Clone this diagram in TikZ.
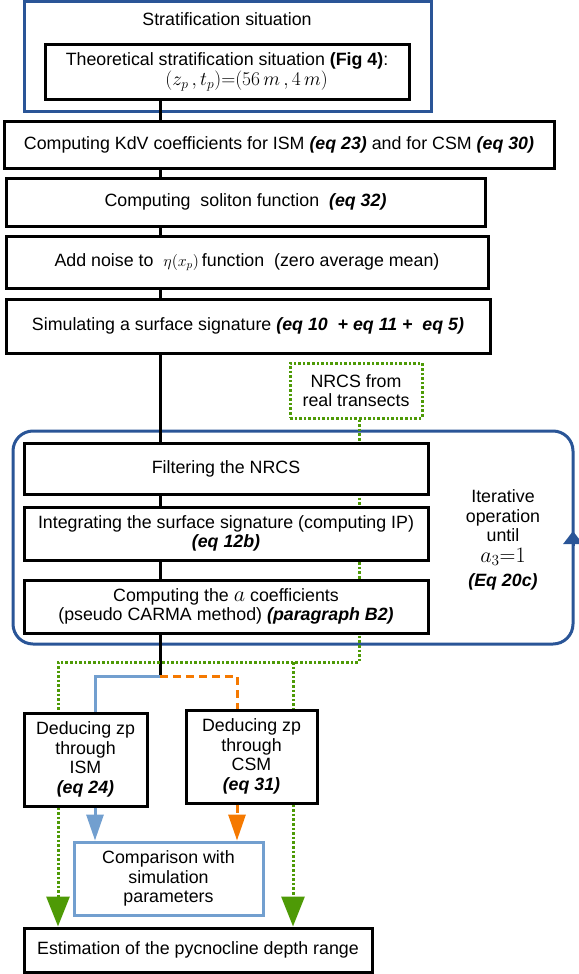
\RequirePackage{fix-cm}
\documentclass[tikz,border=0pt]{standalone}
\usepackage{fontspec}
\setmainfont{Liberation Sans}
\usetikzlibrary{arrows.meta,backgrounds}
\definecolor{loopblue}{HTML}{2A5597}
\definecolor{cmpblue}{HTML}{729FCF}
\definecolor{nrcsgreen}{HTML}{4E9A06}
\definecolor{csmorange}{HTML}{F57900}
\newcommand{\boxline}{3pt}
\newcommand{\bodyfont}{\fontsize{17.8}{19.6}\selectfont}
\newcommand{\eqbi}[1]{\textbf{\textit{#1}}}
\tikzset{
  stepbox/.style={draw, fill=white, line width=\boxline, inner sep=0pt, align=center, font=\bodyfont},
  sitbox/.style={draw=loopblue, line width=\boxline},
  loopbox/.style={draw=loopblue, line width=\boxline, rounded corners=20pt},
  cmpbox/.style={stepbox, draw=cmpblue},
  nrcsbox/.style={stepbox, draw=nrcsgreen, dash pattern=on 2.6pt off 2pt},
  trunk/.style={line width=\boxline},
  ismline/.style={draw=cmpblue, line width=\boxline},
  csmline/.style={draw=csmorange, line width=\boxline, dash pattern=on 8pt off 5pt},
  nrcsline/.style={draw=nrcsgreen, line width=\boxline, dash pattern=on 2.6pt off 2pt},
  loopline/.style={draw=loopblue, line width=\boxline}
}

\begin{document}
\begin{tikzpicture}[x=1pt, y=-1pt]
\useasboundingbox (0,0) rectangle (578,974);
\node[font=\bodyfont] (sittitle) at (227,19) {Stratification situation};
\node[stepbox, minimum width=364, minimum height=54] (theo) at (227,72) {Theoretical stratification situation \textbf{(Fig 4)}:\\ \hspace{2.2em}{\fontsize{19.5}{19.6}\selectfont$(z_p\,, t_p){=}(56\,m\,, 4\,m)$}};
\node[stepbox, minimum width=550, minimum height=47] (kdv) at (279,144.5) {Computing KdV coefficients for ISM \eqbi{(eq 23)} and for CSM \eqbi{(eq 30)}};
\node[stepbox, minimum width=479, minimum height=48] (sol) at (245.5,202) {Computing \ soliton function \ \eqbi{(eq 32)}};
\node[stepbox, minimum width=482, minimum height=52] (noise) at (247,262) {Add noise to \ {\fontsize{16}{16}\selectfont$\eta(x_p)$}\,function \ (zero average mean)};
\node[stepbox, minimum width=484, minimum height=54] (sim) at (248,326) {Simulating a surface signature \eqbi{(eq 10 \ + eq 11 + \ eq 5)}};
\node[nrcsbox, minimum width=132, minimum height=55] (nrcs) at (356,390.5) {NRCS from\\real transects};
\node[stepbox, minimum width=404, minimum height=51] (filt) at (226,468.5) {Filtering the NRCS};
\node[stepbox, minimum width=404, minimum height=53] (integ) at (226,533.5) {Integrating the surface signature (computing IP)\\\eqbi{(eq 12b)}};
\node[stepbox, minimum width=404, minimum height=53] (carma) at (226,606.5) {Computing the {\fontsize{22}{20}\selectfont$a$} coefficients\\(pseudo CARMA method) \eqbi{(paragraph B2)}};
\node[font=\bodyfont, align=center] (iter) at (503,540) {Iterative\\operation\\until\\[1pt]{\fontsize{22}{24}\selectfont$a_3{=}1$}\\[5pt]\eqbi{(Eq 20c)}};
\node[stepbox, minimum width=123, minimum height=93] (ism) at (85.5,759.5) {Deducing zp\\through\\ISM\\\eqbi{(eq 24)}};
\node[stepbox, minimum width=131, minimum height=93] (csm) at (251.5,756.5) {Deducing zp\\through\\CSM\\\eqbi{(eq 31)}};
\node[cmpbox, minimum width=189, minimum height=73] (comp) at (168.5,878.5) {Comparison with\\simulation\\parameters};
\node[stepbox, minimum width=348, minimum height=44] (est) at (198,950) {Estimation of the pycnocline depth range};
% frames behind everything
\begin{scope}[on background layer]
\node[sitbox, minimum width=407, minimum height=109] (sit) at (227.5,56.5) {};
\node[loopbox, minimum width=560, minimum height=213] (loop) at (293,537.5) {};
\end{scope}
\coordinate (split) at (160,676);
\coordinate (isml) at (95,676);
\coordinate (csmr) at (237,676);
\coordinate (gl) at (58,662);
\coordinate (gm) at (293,662);
\coordinate (gr) at (359,662);
\coordinate (looparr) at (573,546);
% connectors
\begin{scope}[on background layer]
\draw[trunk] (theo.south -| split) -- (split);
\draw[ismline] (split) -- (isml) -- (ism.north -| isml);
\draw[csmline] (split) -- (csmr) -- (csm.north -| csmr);
\draw[nrcsline] (gr |- nrcs.south) -- (gr) -- (gl) -- (ism.north -| gl);
\draw[nrcsline] (gm) -- (csm.north -| gm);
\end{scope}
\draw[ismline, -{Triangle[width=17pt,length=26pt]}] (ism.south -| isml) -- (comp.north -| isml);
\draw[csmline, -{Triangle[width=17pt,length=26pt]}] (csm.south -| csmr) -- (comp.north -| csmr);
\draw[nrcsline, -{Triangle[width=23pt,length=30pt]}] (ism.south -| gl) -- (est.north -| gl);
\draw[nrcsline, -{Triangle[width=23pt,length=30pt]}] (csm.south -| gm) -- (est.north -| gm);
\draw[loopline, -{Triangle[width=19pt,length=13pt]}] (looparr) -- ++(0,-15);
\end{tikzpicture}
\end{document}
